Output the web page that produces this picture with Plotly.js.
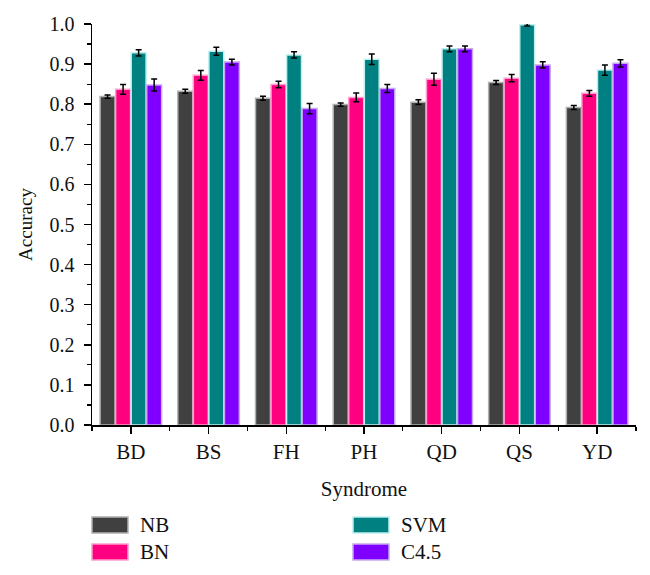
<!DOCTYPE html>
<html>
<head>
<meta charset="utf-8">
<script src="https://cdn.plot.ly/plotly-3.0.1.min.js"></script>
<style>html,body{margin:0;padding:0;background:#fff;}#chart{width:650px;height:575px;}</style>
</head>
<body>
<div id="chart"></div>
<script>
const categories = ["BD", "BS", "FH", "PH", "QD", "QS", "YD"];
const seriesNames = ["NB", "BN", "SVM", "C4.5"];
const nbValues  = [0.819, 0.832, 0.815, 0.799, 0.805, 0.854, 0.792];
const bnValues  = [0.837, 0.872, 0.849, 0.817, 0.862, 0.865, 0.827];
const svmValues = [0.928, 0.932, 0.923, 0.912, 0.938, 0.998, 0.885];
const c45Values = [0.848, 0.905, 0.789, 0.839, 0.938, 0.898, 0.902];
const nbErrors  = [0.004, 0.005, 0.005, 0.004, 0.006, 0.005, 0.005];
const bnErrors  = [0.012, 0.012, 0.008, 0.011, 0.015, 0.009, 0.007];
const svmErrors = [0.008, 0.010, 0.008, 0.013, 0.007, 0.003, 0.013];
const c45Errors = [0.015, 0.007, 0.013, 0.010, 0.007, 0.008, 0.009];
const yTickVals = [0, 0.1, 0.2, 0.3, 0.4, 0.5, 0.6, 0.7, 0.8, 0.9, 1.0];
const yTickText = ["0.0", "0.1", "0.2", "0.3", "0.4", "0.5", "0.6", "0.7", "0.8", "0.9", "1.0"];

const fills = ["#404040", "#ff0080", "#008080", "#8000ff"];
const edges = ["#b0b0b0", "#ff9ccc", "#bff0f0", "#c8a8f0"];
const values = [nbValues, bnValues, svmValues, c45Values];
const errors = [nbErrors, bnErrors, svmErrors, c45Errors];
const xIdx = categories.map((c, i) => i);

const FONT = "'Liberation Serif', 'Times New Roman', serif";

const traces = seriesNames.map((name, k) => ({
  type: "bar",
  name: name,
  x: xIdx,
  y: values[k],
  marker: {color: fills[k], line: {color: edges[k], width: 1.5}},
  error_y: {type: "data", array: errors[k], visible: true, color: "#000", thickness: 1.5, width: 3},
  showlegend: false,
  hovertext: categories
}));

// margins / plot area
const W = 650, H = 575, ML = 92, MR = 14, MT = 24, MB = 150;
const PW = W - ML - MR, PH = H - MT - MB;
const px2x = p => (p - ML) / PW;
const py2y = p => (H - MB - p) / PH;

// legend (swatches + labels) in two columns
const legendCols = [92, 353];
const legendRows = [525, 552];
const legendOrder = [[0, 0], [1, 0], [2, 1], [3, 1]]; // [series, column]
const shapes = [];
const annotations = [];
legendOrder.forEach(([k, col]) => {
  const row = k % 2;
  const x0 = legendCols[col], yc = legendRows[row];
  shapes.push({type: "rect", xref: "paper", yref: "paper",
    x0: px2x(x0), x1: px2x(x0 + 36), y0: py2y(yc - 8), y1: py2y(yc + 8),
    fillcolor: fills[k], line: {color: edges[k], width: 1.5}});
  annotations.push({xref: "paper", yref: "paper", x: px2x(x0 + 46), y: py2y(yc),
    xanchor: "left", yanchor: "middle", showarrow: false, text: seriesNames[k],
    font: {family: FONT, size: 21, color: "#111"}});
});

const layout = {
  width: W, height: H,
  margin: {l: ML, r: MR, t: MT, b: MB, pad: 0},
  paper_bgcolor: "#fff", plot_bgcolor: "#fff",
  barmode: "group", bargap: 0.2, bargroupgap: 0.04,
  font: {family: FONT, color: "#111"},
  xaxis: {
    range: [-0.5, 6.5], tickmode: "array", tickvals: xIdx, ticktext: categories,
    showline: true, linecolor: "#000", linewidth: 1.5, showgrid: false, zeroline: false,
    ticks: "outside", ticklen: 7, tickwidth: 1.5, tickcolor: "#000",
    tickfont: {family: FONT, size: 21, color: "#111"},
    minor: {tickmode: "linear", tick0: -0.5, dtick: 1, ticks: "outside", ticklen: 4, tickwidth: 1.2, tickcolor: "#000", showgrid: false},
    title: {text: "Syndrome", font: {family: FONT, size: 21, color: "#111"}, standoff: 18},
    fixedrange: true
  },
  yaxis: {
    range: [0, 1.0], tickmode: "array", tickvals: yTickVals, ticktext: yTickText,
    showline: true, linecolor: "#000", linewidth: 1.5, showgrid: false, zeroline: false,
    ticks: "outside", ticklen: 7, tickwidth: 1.5, tickcolor: "#000",
    ticklabelstandoff: 5,
    tickfont: {family: FONT, size: 20, color: "#111"},
    minor: {tickmode: "linear", tick0: 0.05, dtick: 0.1, ticks: "outside", ticklen: 4, tickwidth: 1.2, tickcolor: "#000", showgrid: false},
    title: {text: "Accuracy", font: {family: FONT, size: 19, color: "#111"}, standoff: 12},
    fixedrange: true
  },
  shapes: shapes,
  annotations: annotations,
  showlegend: false
};

Plotly.newPlot("chart", traces, layout, {displayModeBar: false, staticPlot: true});
</script>
</body>
</html>
